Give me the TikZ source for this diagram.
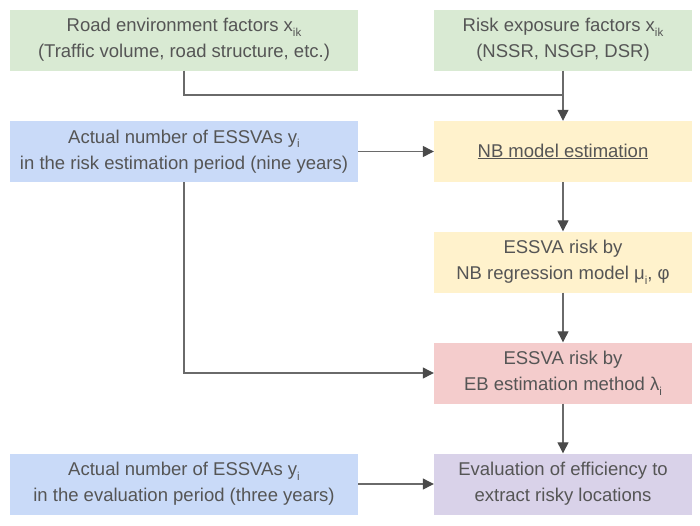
\documentclass[tikz,border=0pt]{standalone}
\usepackage{fontspec}
\setmainfont{Liberation Sans}
\usetikzlibrary{arrows.meta}
\definecolor{gfill}{HTML}{D9EAD3}
\definecolor{bfill}{HTML}{C9DAF8}
\definecolor{yfill}{HTML}{FFF2CC}
\definecolor{rfill}{HTML}{F4CCCC}
\definecolor{pfill}{HTML}{D9D2E9}
\definecolor{txt}{HTML}{555555}
\definecolor{ln}{HTML}{6A6A6A}
\definecolor{tip}{HTML}{4A4A4A}
\newcommand{\mysub}[1]{\raisebox{-0.25em}{\fontsize{11.5}{11.5}\selectfont #1}}
\begin{document}
\begin{tikzpicture}[x=1pt,y=-1pt,
  box/.style={draw=none,minimum height=61pt,align=center,text=txt,
     font=\fontsize{18.5}{26}\selectfont,inner sep=0pt},
  wide/.style={box,minimum width=348pt},
  narrow/.style={box,minimum width=258pt},
  conn/.style={draw=ln,line width=1.2pt},
  arr/.style={conn,-{Triangle[length=11pt,width=11pt,color=tip]}}]
\useasboundingbox (0,0) rectangle (700,525);
\node[wide,fill=gfill] (env) at (184,40) {Road environment factors x\mysub{ik}\\(Traffic volume, road structure, etc.)};
\node[narrow,fill=gfill] (risk) at (563,40) {Risk exposure factors x\mysub{ik}\\(NSSR, NSGP, DSR)};
\node[wide,fill=bfill] (act1) at (184,151.5) {Actual number of ESSVAs y\mysub{i}\\in the risk estimation period (nine years)};
\node[narrow,fill=yfill] (nb) at (563,151.5) {\underline{NB model estimation}};
\node[narrow,fill=yfill] (reg) at (563,262) {ESSVA risk by\\NB regression model μ\mysub{i}, φ};
\node[narrow,fill=rfill] (eb) at (563,373) {ESSVA risk by\\EB estimation method λ\mysub{i}};
\node[wide,fill=bfill] (act2) at (184,484) {Actual number of ESSVAs y\mysub{i}\\in the evaluation period (three years)};
\node[narrow,fill=pfill] (eval) at (563,484) {Evaluation of efficiency to\\extract risky locations};
\coordinate (join) at (563,95);
\draw[conn] (env.south) |- (join);
\draw[arr] (risk.south) -- (nb.north);
\draw[arr] (act1.east) -- (nb.west);
\draw[arr] (nb.south) -- (reg.north);
\draw[arr] (reg.south) -- (eb.north);
\draw[arr] (act1.south) |- (eb.west);
\draw[arr] (eb.south) -- (eval.north);
\draw[arr] (act2.east) -- (eval.west);
\end{tikzpicture}
\end{document}
